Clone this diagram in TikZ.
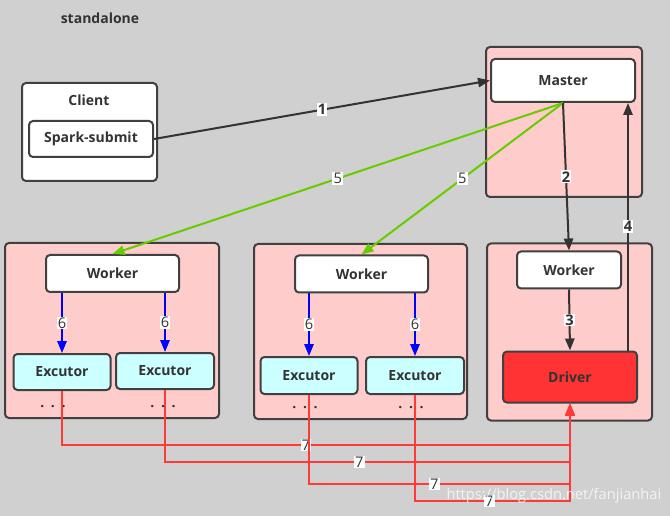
\documentclass[tikz,border=0pt]{standalone}
\usepackage{fontspec}
\setmainfont{Open Sans}
\usetikzlibrary{arrows.meta}

\definecolor{bggray}{HTML}{D0D0D0}
\definecolor{pinkgrp}{HTML}{FFCCCC}
\definecolor{cyanex}{HTML}{CCFFFF}
\definecolor{driverred}{HTML}{FF3333}
\definecolor{darkline}{HTML}{404040}
\definecolor{txtgray}{HTML}{333333}
\definecolor{sparkgreen}{HTML}{66CC00}
\definecolor{linered}{HTML}{FF3838}

\begin{document}
\begin{tikzpicture}[x=0.75pt, y=-0.75pt]
  \tikzstyle{box} = [rectangle, rounded corners=3pt, draw=darkline, line width=1.5pt,
  fill=white, inner sep=0pt, text=txtgray, font=\fontsize{10.5}{12}\bfseries\selectfont];
  \tikzstyle{grp} = [box, fill=pinkgrp];
  \tikzstyle{ex} = [box, fill=cyanex];
  \tikzstyle{txt} = [text=txtgray, font=\fontsize{10.5}{12}\bfseries\selectfont];
  \tikzstyle{lbl} = [fill=white, inner sep=0.8pt, text=txtgray,
  font=\fontsize{11}{12}\selectfont];
  \tikzstyle{lb} = [lbl, font=\fontsize{11}{12}\bfseries\selectfont];
  \tikzstyle{a} = [line width=1.5pt, color=txtgray, -{Triangle[length=9pt,width=7pt]}];
  \tikzstyle{g} = [a, color=sparkgreen];
  \tikzstyle{bl} = [a, color=blue];
  \tikzstyle{r} = [a, line width=1.4pt, color=linered];
  \newcommand{\tdots}{·\hspace{5pt}·\hspace{5pt}·}

  \useasboundingbox[fill=bggray] (0,0) rectangle (670,516);

  \node[txt] (title) at (100,18) {standalone};

  % client
  \node[box, minimum width=101.25pt, minimum height=73.5pt] (cl) at (89.5,132) {};
  \node[txt] (clt) at (89,100) {Client};
  \node[box, minimum width=93pt, minimum height=27pt] (sp) at (91,139) {Spark-submit};

  % master
  \node[grp, minimum width=117pt, minimum height=112.5pt] (mg) at (564,122) {};
  \node[box, minimum width=108pt, minimum height=32.25pt] (ms) at (563,80.5) {Master};

  % worker groups
  \node[grp, minimum width=160.5pt, minimum height=131.25pt] (g1) at (112,330.5) {};
  \node[grp, minimum width=159.75pt, minimum height=131.25pt] (g2) at (360.5,331.5) {};
  \node[grp, minimum width=123.75pt, minimum height=132.75pt] (g3) at (569.5,332) {};

  \node[box, minimum width=99.75pt, minimum height=27.75pt] (w1) at (112.5,273.5) {Worker};
  \node[box, minimum width=99.75pt, minimum height=27.75pt] (w2) at (361.5,274) {Worker};
  \node[box, minimum width=78pt, minimum height=27.75pt] (w3) at (569,270) {Worker};

  \node[ex, minimum width=72.75pt, minimum height=27pt] (e1) at (62,372) {Excutor};
  \node[ex, minimum width=73.5pt, minimum height=27pt] (e2) at (165,371) {Excutor};
  \node[ex, minimum width=72.75pt, minimum height=27.75pt] (e3) at (309,375.5) {Excutor};
  \node[ex, minimum width=73.5pt, minimum height=27.75pt] (e4) at (415,375.5) {Excutor};

  \node[box, fill=driverred, minimum width=100.5pt, minimum height=38.25pt] (drv) at (570,377) {Driver};

  \node[txt] (d1) at (53,408) {\tdots};
  \node[txt] (d2) at (163,408) {\tdots};
  \node[txt] (d3) at (305,409) {\tdots};
  \node[txt] (d4) at (411,409) {\tdots};

  % connectors
  \coordinate (c4) at (628,0);
  \coordinate (j1) at (570,445);
  \coordinate (j2) at (570,462);
  \coordinate (j3) at (570,484);
  \coordinate (j4) at (570,501);

  \draw[a] (sp.east) -- node[lb] (l1) {1} (ms.west);
  \draw[g] (ms.south) -- node[lbl] (l5a) {5} (w1.north);
  \draw[g] (ms.south) -- node[lbl] (l5b) {5} (w2.north);
  \draw[a] (ms.south) -- node[lb] (l2) {2} (w3.north);
  \draw[a] (drv.north -| c4) -- node[lb] (l4) {4} (ms.south -| c4);
  \draw[a] (w3.south) -- node[lb] (l3) {3} (drv.north);

  \draw[bl] (e1 |- w1.south) -- node[lbl] (l6a) {6} (e1.north);
  \draw[bl] (e2 |- w1.south) -- node[lbl] (l6b) {6} (e2.north);
  \draw[bl] (e3 |- w2.south) -- node[lbl] (l6c) {6} (e3.north);
  \draw[bl] (e4 |- w2.south) -- node[lbl] (l6d) {6} (e4.north);

  \draw[r] (e1.south) |- (j1) node[lbl, pos=0.74] (l7a) {7} -- (drv.south);
  \draw[r] (e2.south) |- (j2) node[lbl, pos=0.74] (l7b) {7} -- (drv.south);
  \draw[r] (e3.south) |- (j3) node[lbl, pos=0.74] (l7c) {7} -- (drv.south);
  \draw[r] (e4.south) |- (j4) node[lbl, pos=0.74] (l7d) {7} -- (drv.south);

  \node[anchor=east, text=white, opacity=0.75, font=\fontsize{11}{12}\selectfont] (wm) at (666,496) {https://blog.csdn.net/fanjianhai};
\end{tikzpicture}
\end{document}
